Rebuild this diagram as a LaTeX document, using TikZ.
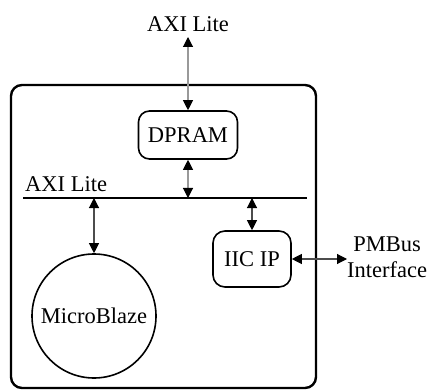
\documentclass[tikz,border=0pt]{standalone}
\usepackage{fontspec}
\setmainfont{Liberation Serif}
\usetikzlibrary{arrows.meta}
\begin{document}
\begin{tikzpicture}[x=1pt,y=-1pt,
  lbl/.style={font=\fontsize{22.5}{26}\selectfont, inner sep=0pt},
  blk/.style={draw, line width=1.6pt, rounded corners=11pt, inner sep=0pt, font=\fontsize{22.5}{26}\selectfont},
  bidir/.style={{Triangle[length=10pt,width=10pt,color=black]}-{Triangle[length=10pt,width=10pt,color=black]}, line width=1.1pt},
  lt/.style={draw=gray!80},
  dk/.style={draw=black!70}]
\useasboundingbox (0,0) rectangle (428,390);
% outer frame
\draw[line width=2.4pt, rounded corners=11pt] (11,85) rectangle (316,388);
% labels
\node[lbl, anchor=base] (topaxi) at (188,32) {AXI Lite};
\node[lbl, anchor=base west] (busaxi) at (25,192) {AXI Lite};
\node[lbl, align=center, anchor=west] (pm) at (347,257) {PMBus\\Interface};
% blocks
\node[blk, minimum width=99pt, minimum height=48pt] (dpram) at (188,135) {DPRAM};
\node[blk, minimum width=78pt, minimum height=56pt, rounded corners=12pt] (iic) at (252,259) {IIC IP};
\node[draw, circle, line width=1.6pt, minimum size=124pt, inner sep=0pt, font=\fontsize{22.5}{26}\selectfont] (mb) at (94,316) {MicroBlaze};
% bus
\coordinate (busL) at (23,198);
\coordinate (busR) at (307,198);
\draw[line width=1.8pt] (busL) -- (busR);
\coordinate (tA) at (188,37);
% connectors
\draw[bidir, lt] (tA) -- (dpram.north);
\draw[bidir, lt] (dpram.south) -- (dpram.south |- busL);
\draw[bidir, dk] (mb.north |- busL) -- (mb.north);
\draw[bidir, dk] (iic.north |- busL) -- (iic.north);
\draw[bidir, dk] (iic.east) -- (iic.east -| pm.west);
\end{tikzpicture}
\end{document}
